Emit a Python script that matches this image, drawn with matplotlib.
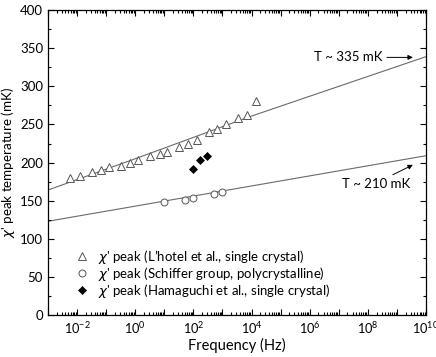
import numpy as np
import matplotlib
matplotlib.use('Agg')
import matplotlib.pyplot as plt
from matplotlib.ticker import LogLocator, FuncFormatter, MultipleLocator, NullFormatter

plt.rcParams['font.family'] = ['Lato', 'DejaVu Sans']
plt.rcParams['mathtext.fontset'] = 'custom'
plt.rcParams['mathtext.rm'] = 'Lato'
plt.rcParams['mathtext.it'] = 'DejaVu Sans:italic'

# L'hotel et al., single crystal (triangles)
lhotel_f = [0.0057, 0.0130, 0.033, 0.065, 0.13, 0.33, 0.64, 1.25, 3.3, 6.9,
            12.6, 33, 67, 130, 350, 660, 1300, 3500, 6900, 14000]
lhotel_T = [180, 183, 187, 190, 194, 196, 200, 203, 208, 211,
            214, 221, 224, 230, 240, 244, 251, 258, 263, 281]

# Schiffer group, polycrystalline (circles)
schiffer_f = [10, 50, 100, 500, 1000]
schiffer_T = [148, 151, 154, 159, 161]

# Hamaguchi et al., single crystal (diamonds)
hamaguchi_f = [95, 170, 300]
hamaguchi_T = [191, 203, 208]

# fit curves
fit_hi_f = [1e-3, 1e0, 1e2, 1e4, 1e10]
fit_hi_T = [164, 205, 233, 261, 339]
fit_lo_f = [1e-3, 1e10]
fit_lo_T = [123, 209]

fig = plt.figure(figsize=(4.36, 3.57), dpi=100)
ax = fig.add_axes([0.110, 0.1176, 0.867, 0.854])

line_col = '#6a6a6a'
ax.plot(fit_hi_f, fit_hi_T, color=line_col, lw=0.8, zorder=1)
ax.plot(fit_lo_f, fit_lo_T, color=line_col, lw=0.8, zorder=1)

mk_col = '#555555'
ax.plot(lhotel_f, lhotel_T, ls='none', marker='^', ms=5.5, mfc='white',
        mec=mk_col, mew=0.7, label="$\\chi$' peak (L\u2019hotel et al., single crystal)", zorder=3)
ax.plot(schiffer_f, schiffer_T, ls='none', marker='o', ms=5, mfc='white',
        mec=mk_col, mew=0.7, label="$\\chi$' peak (Schiffer group, polycrystalline)", zorder=3)
ax.plot(hamaguchi_f, hamaguchi_T, ls='none', marker='D', ms=4.5, mfc='black',
        mec='black', mew=0.5, label="$\\chi$' peak (Hamaguchi et al., single crystal)", zorder=3)

ax.set_xscale('log')
ax.set_xlim(1e-3, 1e10)
ax.set_ylim(0, 400)

ax.xaxis.set_major_locator(LogLocator(base=10, numticks=30))
ax.xaxis.set_minor_locator(LogLocator(base=10, subs=np.arange(2, 10), numticks=30))
ax.xaxis.set_minor_formatter(NullFormatter())


def fmt(v, pos):
    e = int(round(np.log10(v)))
    if e % 2 == 0:
        return '$\\mathregular{10^{%d}}$' % e
    return ''


ax.xaxis.set_major_formatter(FuncFormatter(fmt))
ax.yaxis.set_major_locator(MultipleLocator(50))
ax.yaxis.set_minor_locator(MultipleLocator(25))

ax.tick_params(which='both', direction='in', top=True, right=True, labelsize=9.5, width=0.8)
ax.tick_params(axis='x', labelsize=9.2)
ax.tick_params(which='major', length=4)
ax.tick_params(which='minor', length=2)
ax.tick_params(axis='x', pad=4)
for s in ax.spines.values():
    s.set_linewidth(0.9)

ax.set_xlabel('Frequency (Hz)', fontsize=10.5, labelpad=1)
ax.set_ylabel("$\\chi$' peak temperature (mK)", fontsize=9.6, labelpad=2)

# annotations
ax.annotate('', xy=(10**9.55, 338), xytext=(10**8.66, 338),
            arrowprops=dict(arrowstyle='-|>', color='black', lw=0.7, mutation_scale=7,
                            shrinkA=0, shrinkB=0))
ax.text(10**8.52, 338, 'T ~ 335 mK', ha='right', va='center', fontsize=9.5)
ax.annotate('', xy=(10**9.55, 197), xytext=(10**8.86, 184),
            arrowprops=dict(arrowstyle='-|>', color='black', lw=0.7, mutation_scale=7,
                            shrinkA=0, shrinkB=0))
ax.text(10**9.45, 172, 'T ~ 210 mK', ha='right', va='center', fontsize=9.5)

ax.legend(loc='lower left', bbox_to_anchor=(0.045, 0.02), frameon=False, fontsize=9.5,
          handletextpad=0.6, labelspacing=-0.08, handlelength=1.2, borderpad=0.2)

fig.savefig('out.png', dpi=100)
